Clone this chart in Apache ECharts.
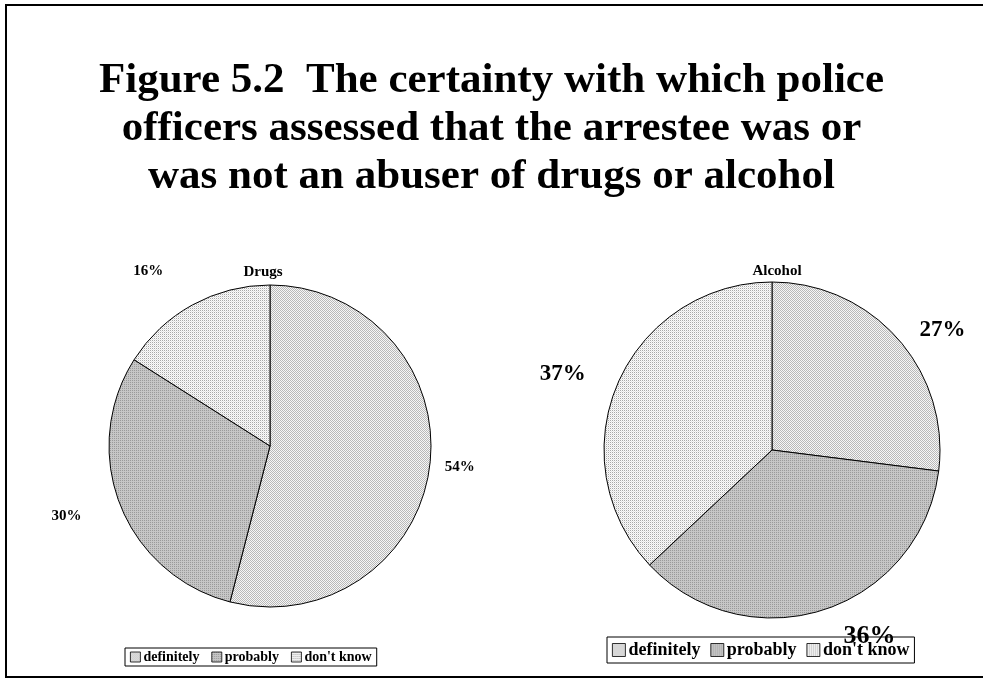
<!DOCTYPE html>
<html><head><meta charset="utf-8">
<script src="https://cdn.jsdelivr.net/npm/echarts@6/dist/echarts.min.js"></script>
<style>html,body{margin:0;padding:0;background:#fff}#c{width:983px;height:679px}</style>
</head><body><div id="c"></div>
<script>
const categories = ['definitely', 'probably', "don't know"];
const drugsValues = [54, 30, 16];
const alcoholValues = [27, 36, 37];
const chartTitle = 'Figure 5.2  The certainty with which police\nofficers assessed that the arrestee was or\nwas not an abuser of drugs or alcohol';
const pieTitles = ['Drugs', 'Alcohol'];

function makePattern(kind) {
  const c = document.createElement('canvas');
  c.width = 4; c.height = 4;
  const g = c.getContext('2d');
  for (let y = 0; y < 4; y++) for (let x = 0; x < 4; x++) {
    let col;
    if (kind === 0) col = ((x + y) % 2 === 0) ? '#b8b8b8' : '#f6f6f6';
    else if (kind === 1) col = (x % 2 === 0 && y % 2 === 0) ? '#9a9a9a' : '#c6c6c6';
    else col = (x % 2 === 0 && y % 2 === 0) ? '#a8a8a8' : ((x % 2 === 1 && y % 2 === 1) ? '#e4e4e4' : '#fbfbfb');
    g.fillStyle = col; g.fillRect(x, y, 1, 1);
  }
  return { image: c, repeat: 'repeat' };
}
const patterns = [makePattern(0), makePattern(1), makePattern(2)];
const serif = '"Liberation Serif", "Times New Roman", serif';

function buildData(values, labelStyles, lineLens) {
  return categories.map((n, i) => ({
    name: n, value: values[i],
    itemStyle: { color: patterns[i] },
    label: labelStyles ? labelStyles[i] : undefined,
    labelLine: { show: false, length: lineLens[i], length2: 6 }
  }));
}

const chart = echarts.init(document.getElementById('c'));
chart.setOption({
  backgroundColor: '#fff',
  animation: false,
  title: [
    { text: chartTitle, left: 'center', top: 52,
      textStyle: { fontFamily: serif, fontWeight: 'bold', fontSize: 43, lineHeight: 48, color: '#000' } },
    { text: pieTitles[0], left: 258, top: 260, textAlign: 'center',
      textStyle: { fontFamily: serif, fontWeight: 'bold', fontSize: 15, color: '#000' } },
    { text: pieTitles[1], left: 772, top: 259, textAlign: 'center',
      textStyle: { fontFamily: serif, fontWeight: 'bold', fontSize: 15, color: '#000' } }
  ],
  graphic: [
    { type: 'rect', shape: { x: 6, y: 5, width: 985, height: 672 },
      style: { fill: null, stroke: '#000', lineWidth: 2 }, silent: true }
  ],
  legend: [
    { seriesIndex: 0, data: categories, left: 125, top: 648, orient: 'horizontal',
      itemWidth: 10, itemHeight: 10, itemGap: 12, padding: [2, 5],
      borderColor: '#000', borderWidth: 1, icon: 'rect',
      itemStyle: { borderColor: '#000', borderWidth: 0.8 },
      textStyle: { fontFamily: serif, fontWeight: 'bold', fontSize: 14, color: '#000', padding: [0, 0, 0, -2] } },
    { data: categories, left: 607, top: 637, orient: 'horizontal',
      itemWidth: 13, itemHeight: 13, itemGap: 10, padding: [4, 5],
      borderColor: '#000', borderWidth: 1, icon: 'rect',
      itemStyle: { borderColor: '#000', borderWidth: 0.8 },
      textStyle: { fontFamily: serif, fontWeight: 'bold', fontSize: 18, color: '#000', padding: [0, 0, 0, -2] } }
  ],
  series: [
    { type: 'pie', name: 'Drugs', center: [270, 446], radius: 161, startAngle: 90, clockwise: true,
      avoidLabelOverlap: false,
      itemStyle: { borderColor: '#000', borderWidth: 1 },
      label: { show: true, position: 'outside', formatter: '{d}%', fontFamily: serif, fontWeight: 'bold', fontSize: 15, color: '#000' },
      labelLine: { show: false },
      emphasis: { disabled: true },
      data: buildData(drugsValues, null, [4, 30, 38]) },
    { type: 'pie', name: 'Alcohol', center: [772, 450], radius: 168, startAngle: 90, clockwise: true,
      avoidLabelOverlap: false,
      itemStyle: { borderColor: '#000', borderWidth: 1 },
      label: { show: true, position: 'outside', formatter: '{d}%', fontFamily: serif, fontWeight: 'bold', fontSize: 23, color: '#000' },
      labelLine: { show: false },
      emphasis: { disabled: true },
      data: buildData(alcoholValues, [{ fontSize: 23 }, { fontSize: 26 }, { fontSize: 23 }], [14, 28, 23]) }
  ]
});
</script></body></html>
